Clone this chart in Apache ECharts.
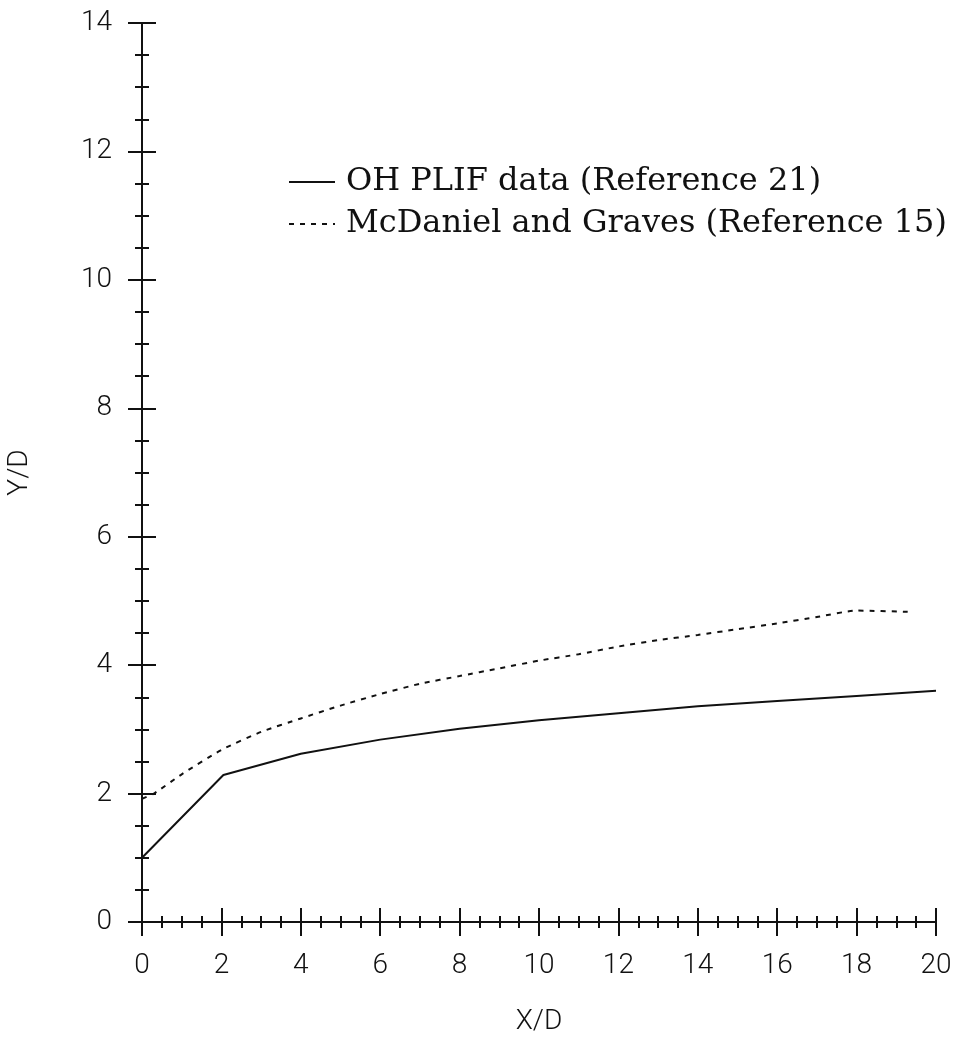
<!DOCTYPE html>
<html>
<head>
<meta charset="utf-8">
<script src="https://cdn.jsdelivr.net/npm/echarts@6/dist/echarts.min.js"></script>
<style>html,body{margin:0;padding:0;background:#fff}#c{width:958px;height:1051px}</style>
</head>
<body>
<div id="c"></div>
<script>
// Data
const seriesNames = ['OH PLIF data (Reference 21)', 'McDaniel and Graves (Reference 15)'];
const ohPlifX = [0, 2.05, 4, 6, 8, 10, 12, 14, 16, 18, 20];
const ohPlifY = [1.0, 2.29, 2.62, 2.84, 3.01, 3.14, 3.25, 3.36, 3.44, 3.52, 3.60];
const mcDanielX = [0, 0.3, 1, 2, 3, 4, 5, 6, 7, 8, 9, 10, 11, 12, 13, 14, 15, 16, 17, 18, 19.3];
const mcDanielY = [1.92, 2.0, 2.3, 2.68, 2.96, 3.17, 3.37, 3.55, 3.71, 3.83, 3.95, 4.07, 4.17, 4.29, 4.39, 4.47, 4.56, 4.65, 4.75, 4.85, 4.83];
const xTicks = [0, 2, 4, 6, 8, 10, 12, 14, 16, 18, 20];
const yTicks = [0, 2, 4, 6, 8, 10, 12, 14];

const ink = '#111';
const tickFont = "'Roboto', 'DejaVu Sans', sans-serif";
const gridBox = { left: 142, right: 22, top: 23, bottom: 129, outerBoundsMode: 'none', containLabel: false };

function xAxisDef(gridIndex, inside, showLabel) {
  return {
    type: 'value', gridIndex, min: xTicks[0], max: xTicks[xTicks.length - 1], interval: 2,
    axisLine: { show: true, lineStyle: { color: ink, width: 2 } },
    axisTick: { show: true, inside, length: 14, lineStyle: { color: ink, width: 2 } },
    minorTick: { show: true, splitNumber: 4, length: 6, lineStyle: { color: ink, width: 2 } },
    splitLine: { show: false },
    axisLabel: { show: showLabel, margin: 30, color: ink, fontSize: 28, fontFamily: tickFont, fontWeight: 300 },
    name: showLabel ? 'X/D' : '', nameLocation: 'middle', nameGap: 86,
    nameTextStyle: { color: ink, fontSize: 28, fontFamily: tickFont, fontWeight: 300 }
  };
}
function yAxisDef(gridIndex, inside, showLabel) {
  return {
    type: 'value', gridIndex, min: yTicks[0], max: yTicks[yTicks.length - 1], interval: 2,
    axisLine: { show: true, lineStyle: { color: ink, width: 2 } },
    axisTick: { show: true, inside, length: 14, lineStyle: { color: ink, width: 2 } },
    minorTick: { show: true, splitNumber: 4, length: 7, lineStyle: { color: ink, width: 2 } },
    splitLine: { show: false },
    axisLabel: { show: showLabel, margin: 30, color: ink, fontSize: 28, fontFamily: tickFont, fontWeight: 300 },
    name: showLabel ? 'Y/D' : '', nameLocation: 'middle', nameGap: 108,
    nameTextStyle: { color: ink, fontSize: 28, fontFamily: tickFont, fontWeight: 300 }
  };
}

const chart = echarts.init(document.getElementById('c'), null, { renderer: 'canvas' });
chart.setOption({
  backgroundColor: '#fff',
  animation: false,
  color: [ink, ink],
  grid: [Object.assign({}, gridBox), Object.assign({}, gridBox)],
  xAxis: [xAxisDef(0, false, true), xAxisDef(1, true, false)],
  yAxis: [yAxisDef(0, false, true), yAxisDef(1, true, false)],
  legend: {
    orient: 'vertical', left: 283, top: 161, itemWidth: 46, itemHeight: 14, itemGap: 10,
    itemStyle: { opacity: 0 },
    textStyle: { color: ink, fontSize: 32, fontFamily: "'DejaVu Serif', 'Liberation Serif', serif", padding: [0, 0, 0, 6] },
    data: seriesNames
  },
  series: [
    {
      name: seriesNames[0], type: 'line', xAxisIndex: 0, yAxisIndex: 0, symbol: 'none',
      itemStyle: { color: ink },
      lineStyle: { color: ink, width: 2 },
      data: ohPlifX.map((x, i) => [x, ohPlifY[i]])
    },
    {
      name: seriesNames[1], type: 'line', xAxisIndex: 0, yAxisIndex: 0, symbol: 'none', smooth: 0.2,
      itemStyle: { color: ink },
      lineStyle: { color: ink, width: 2, type: [5, 6] },
      data: mcDanielX.map((x, i) => [x, mcDanielY[i]])
    }
  ]
});
</script>
</body>
</html>
